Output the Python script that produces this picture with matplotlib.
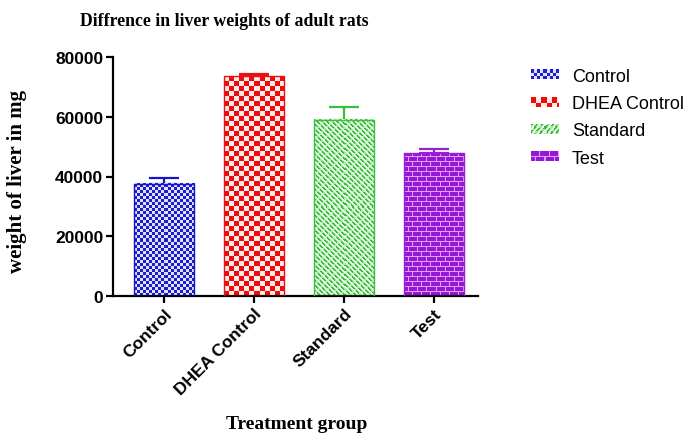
import numpy as np
import matplotlib
matplotlib.use("Agg")
import matplotlib.pyplot as plt
from matplotlib.legend_handler import HandlerBase
from matplotlib.image import BboxImage
from matplotlib.transforms import Bbox, TransformedBbox

# Data
groups = ['Control', 'DHEA Control', 'Standard', 'Test']
means = [37500, 73600, 59000, 47800]
sem = [1900, 800, 4400, 1300]
colors = ['#1515c8', '#e81010', '#3cbf3c', '#9a1ed2']


def checker(h, w, cell, c1, c2):
    i, j = np.indices((h, w))
    m = ((i // cell + j // cell) % 2) == 0
    return np.where(m[..., None], np.array(c1), np.array(c2))


def stripes(h, w, c1, c2, c3):
    i, j = np.indices((h, w))
    d = (i + j) % 5
    brk = ((j - i) // 3) % 3 == 2
    out = np.where((d < 2)[..., None], np.array(c1), np.array(c3))
    out = np.where(((d == 2) | ((d < 2) & brk))[..., None], np.array(c2), out)
    return out


def bricks(h, w, c1, c2):
    i, j = np.indices((h, w))
    row = i // 5
    mortar_row = (i % 5) == 4
    shift = (row % 2) * 4
    mortar_col = ((j + shift) % 9) == 8
    m = mortar_row | mortar_col
    return np.where(m[..., None], np.array(c2), np.array(c1))


def texture(k, h, w):
    if k == 0:
        return checker(h, w, 3, (0.12, 0.12, 0.82), (0.88, 0.88, 1.0))
    if k == 1:
        return checker(h, w, 5, (0.93, 0.05, 0.05), (1.0, 0.92, 0.92))
    if k == 2:
        return stripes(h, w, (0.22, 0.74, 0.22), (0.66, 0.90, 0.66), (0.90, 0.98, 0.90))
    return bricks(h, w, (0.58, 0.10, 0.84), (0.88, 0.62, 0.98))


class TextureHandler(HandlerBase):
    def __init__(self, k):
        super().__init__()
        self.k = k

    def create_artists(self, legend, orig_handle, xdescent, ydescent,
                       width, height, fontsize, trans):
        bb = Bbox.from_bounds(-xdescent, -ydescent, width, height)
        img = BboxImage(TransformedBbox(bb, trans), interpolation='nearest')
        img.set_data(texture(self.k, 8, 27))
        return [img]


fig = plt.figure(figsize=(6.94, 4.39), dpi=100)
ax = fig.add_axes([113 / 694, 1 - 297 / 439, 365 / 694, 239 / 439])

x = np.arange(len(groups))
bars = ax.bar(x, means, width=0.667, color='none', edgecolor=colors,
              linewidth=1.0, zorder=3)
ax.set_xlim(-0.567, 3.49)
ax.set_ylim(0, 80000)

# fill each bar with its pixel texture
for k, b in enumerate(bars):
    (x0, y0), (x1, y1) = ax.transData.transform(
        [(b.get_x(), 0), (b.get_x() + b.get_width(), b.get_height())])
    w_px, h_px = int(round(x1 - x0)), int(round(y1 - y0))
    ax.imshow(texture(k, h_px, w_px), origin='lower', interpolation='nearest',
              extent=(b.get_x(), b.get_x() + b.get_width(), 0, b.get_height()),
              aspect='auto', zorder=2)
    ax.errorbar(x[k], means[k], yerr=[[0], [sem[k]]], fmt='none',
                ecolor=colors[k], elinewidth=1.6, capsize=10.5, capthick=1.6,
                zorder=1)
ax.set_xlim(-0.567, 3.49)
ax.set_ylim(0, 80000)

for s in ['top', 'right']:
    ax.spines[s].set_visible(False)
for s in ['left', 'bottom']:
    ax.spines[s].set_linewidth(1.6)

ax.set_yticks([0, 20000, 40000, 60000, 80000])
ax.set_yticklabels(['0', '20000', '40000', '60000', '80000'],
                   fontsize=12.5, fontweight='bold', family='Liberation Sans')
ax.set_xticks(x)
ax.set_xticklabels(groups, rotation=45, ha='right', rotation_mode='anchor',
                   fontsize=12.5, fontweight='bold', family='Liberation Sans')
ax.tick_params(axis='both', length=5, width=1.6, direction='out', pad=2)

fig.text(224 / 694, 1 - 22 / 439, 'Diffrence in liver weights of adult rats',
         ha='center', va='center', fontsize=12.8, fontweight='bold',
         family='Liberation Serif')
fig.text(17 / 694, 1 - 181 / 439, 'weight of liver in mg', rotation=90,
         ha='center', va='center', fontsize=15, fontweight='bold',
         family='Liberation Serif')
fig.text(297 / 694, 1 - 425 / 439, 'Treatment group', ha='center',
         va='center', fontsize=14, fontweight='bold', family='Liberation Serif')

hmap = {b: TextureHandler(k) for k, b in enumerate(bars)}
leg = fig.legend(list(bars), groups, handler_map=hmap, frameon=False,
                 loc='upper left', bbox_to_anchor=(524 / 694, 1 - 62 / 439),
                 prop={'family': 'Liberation Sans', 'size': 13},
                 handlelength=1.5, handleheight=0.42, labelspacing=0.56,
                 handletextpad=0.75, borderaxespad=0)

fig.savefig('out.png', dpi=100)
